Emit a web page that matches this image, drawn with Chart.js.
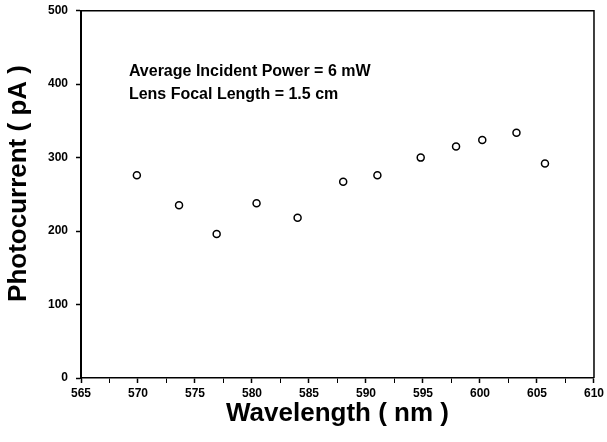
<!DOCTYPE html>
<html>
<head>
<meta charset="utf-8">
<script src="https://cdn.jsdelivr.net/npm/chart.js@4/dist/chart.umd.min.js"></script>
<style>
  html, body { margin: 0; padding: 0; background: #fff; }
  #wrap { width: 607px; height: 442px; }
</style>
</head>
<body>
<div id="wrap"><canvas id="photoChart" width="607" height="442"></canvas></div>
<script>
// Photocurrent vs wavelength
const wavelength = [569.9, 573.6, 576.9, 580.4, 584.0, 588.0, 591.0, 594.8, 597.9, 600.2, 603.2, 605.7];
const photocurrent = [276, 235, 196, 238, 218, 267, 276, 300, 315, 324, 334, 292];
const noteLines = ["Average Incident Power = 6 mW", "Lens Focal Length = 1.5 cm"];

const FONT = "'Liberation Sans', Arial, sans-serif";

// top and right edges of the plot box + the text note
const framePlugin = {
  id: "frame",
  afterDraw(chart) {
    const { ctx, chartArea } = chart;
    const x = chart.scales.x, y = chart.scales.y;
    ctx.save();
    ctx.strokeStyle = "#000";
    ctx.lineWidth = 1.5;
    ctx.beginPath();
    ctx.moveTo(chartArea.left, chartArea.top);
    ctx.lineTo(chartArea.right, chartArea.top);
    ctx.lineTo(chartArea.right, chartArea.bottom);
    ctx.stroke();

    ctx.fillStyle = "#000";
    ctx.font = "bold 16px " + FONT;
    ctx.textBaseline = "middle";
    ctx.textAlign = "left";
    ctx.fillText(noteLines[0], x.getPixelForValue(569.2), y.getPixelForValue(417));
    ctx.fillText(noteLines[1], x.getPixelForValue(569.2), y.getPixelForValue(386));
    ctx.restore();
  }
};

new Chart(document.getElementById("photoChart"), {
  type: "scatter",
  data: {
    datasets: [{
      data: wavelength.map((w, i) => ({ x: w, y: photocurrent[i] })),
      pointStyle: "circle",
      pointRadius: 3.5,
      pointBorderWidth: 1.5,
      pointBorderColor: "#000",
      pointBackgroundColor: "#fff",
      showLine: false
    }]
  },
  options: {
    responsive: false,
    animation: false,
    layout: { padding: { top: 10.7, right: 13, left: 0, bottom: 0 } },
    scales: {
      x: {
        type: "linear",
        min: 565,
        max: 610,
        afterFit(scale) { scale.height = 64; },
        ticks: {
          stepSize: 2.5,
          autoSkip: false,
          maxRotation: 0,
          padding: 3,
          color: "#000",
          font: { family: FONT, size: 12, weight: "bold" },
          callback: (v) => (v % 5 === 0 ? v : "")
        },
        grid: {
          drawOnChartArea: false,
          drawTicks: true,
          tickLength: 5,
          tickColor: "#000",
          tickWidth: (c) => (c.tick && c.tick.value % 5 === 0 ? 1.5 : 1)
        },
        border: { display: true, color: "#000", width: 1.5 },
        title: {
          display: true,
          text: "Wavelength ( nm )",
          color: "#000",
          font: { family: FONT, size: 26, weight: "bold", lineHeight: 1 },
          padding: { top: 0, bottom: 15 }
        }
      },
      y: {
        min: 0,
        max: 500,
        afterFit(scale) {
          scale.width = 81;
          // don't let the tick label padding push the plot top down
          scale.paddingTop = 0;
          scale.paddingBottom = 0;
        },
        ticks: {
          stepSize: 100,
          padding: 8,
          color: "#000",
          font: { family: FONT, size: 12, weight: "bold" }
        },
        grid: {
          drawOnChartArea: false,
          drawTicks: true,
          tickLength: 5,
          tickColor: "#000",
          tickWidth: 1.5
        },
        border: { display: true, color: "#000", width: 2 },
        title: {
          display: true,
          text: "   Photocurrent ( pA )",
          color: "#000",
          font: { family: FONT, size: 26, weight: "bold", lineHeight: 1 },
          padding: { top: 6, bottom: 0 }
        }
      }
    },
    plugins: {
      legend: { display: false },
      tooltip: { enabled: false }
    }
  },
  plugins: [framePlugin]
});
</script>
</body>
</html>
